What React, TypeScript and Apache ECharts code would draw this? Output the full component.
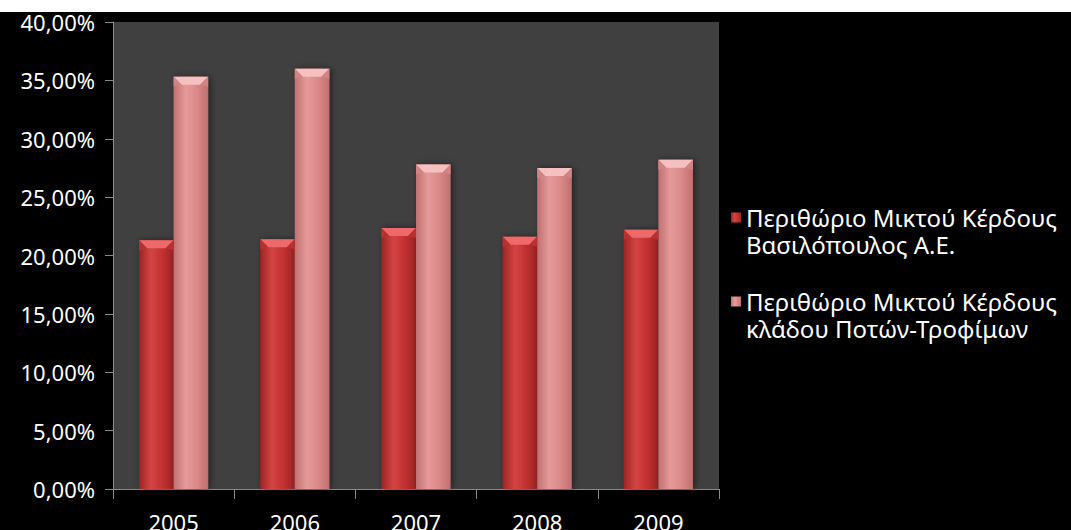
import React, { useEffect, useRef } from "react";
import * as echarts from "echarts";

const years = ["2005", "2006", "2007", "2008", "2009"];
const companyMargin = [21.3, 21.4, 22.35, 21.6, 22.2];
const sectorMargin = [35.3, 36.0, 27.8, 27.5, 28.2];
const seriesNames = [
  "Περιθώριο Μικτού Κέρδους\nΒασιλόπουλος Α.Ε.",
  "Περιθώριο Μικτού Κέρδους\nκλάδου Ποτών-Τροφίμων",
];

const FONT = "'Noto Sans', 'DejaVu Sans', sans-serif";
const CAT_GAP = 0.43;

const hGrad = (edge: string, mid: string, light: string) =>
  new echarts.graphic.LinearGradient(0, 0, 1, 0, [
    { offset: 0, color: edge },
    { offset: 0.35, color: light },
    { offset: 0.65, color: mid },
    { offset: 1, color: edge },
  ]);

const bevel = (side: number, topColor: string, sideColor: string) => (params: any, api: any) => {
  const idx = api.value(0);
  const val = api.value(1);
  const top = api.coord([idx, val]);
  const band = api.size([1, 0])[0];
  const w = (band * (1 - CAT_GAP)) / 2;
  const x0 = side === 0 ? top[0] - w : top[0];
  const x1 = x0 + w;
  const y = top[1];
  const b = 8;
  return {
    type: "group",
    children: [
      {
        type: "polygon",
        shape: { points: [[x0, y], [x1, y], [x1 - b, y + b], [x0 + b, y + b]] },
        style: { fill: topColor },
      },
      {
        type: "polygon",
        shape: { points: [[x0, y], [x0 + b, y + b], [x0, y + b + 2]] },
        style: { fill: sideColor },
      },
      {
        type: "polygon",
        shape: { points: [[x1, y], [x1 - b, y + b], [x1, y + b + 2]] },
        style: { fill: sideColor },
      },
    ],
  };
};

export default function App() {
  const ref = useRef<HTMLDivElement>(null);
  useEffect(() => {
    document.body.style.margin = "0";
    const chart = echarts.init(ref.current!, undefined, { renderer: "svg" });
    chart.setOption({
      animation: false,
      backgroundColor: "#000000",
      graphic: [
        {
          type: "rect",
          left: 0,
          top: 0,
          z: -10,
          shape: { width: 1071, height: 12 },
          style: { fill: "#ffffff" },
        },
      ],
      grid: {
        left: 113,
        right: 352,
        top: 22,
        bottom: 41,
        containLabel: false,
        outerBoundsMode: "none",
        show: true,
        backgroundColor: "#404040",
        borderWidth: 0,
      },
      legend: {
        orient: "vertical",
        left: 726,
        top: 172,
        itemWidth: 10,
        itemHeight: 10,
        itemGap: 3,
        icon: "rect",
        data: seriesNames,
        formatter: (name: string) => "\n" + name,
        textStyle: {
          color: "#ffffff",
          fontSize: 24,
          fontFamily: FONT,
          lineHeight: 27,
        },
      },
      xAxis: {
        type: "category",
        data: years,
        axisLine: { lineStyle: { color: "#8a8a8a", width: 1 } },
        axisTick: { show: true, length: 10, lineStyle: { color: "#8a8a8a" } },
        axisLabel: { color: "#ffffff", fontSize: 22, fontFamily: FONT, margin: 22 },
      },
      yAxis: {
        type: "value",
        min: 0,
        max: 40,
        interval: 5,
        splitLine: { show: false },
        axisLine: { show: true, lineStyle: { color: "#8a8a8a", width: 1 } },
        axisTick: { show: true, length: 8, lineStyle: { color: "#8a8a8a" } },
        axisLabel: {
          color: "#ffffff",
          fontSize: 22,
          fontFamily: FONT,
          margin: 18,
          formatter: (v: number) => v.toFixed(2).replace(".", ",") + "%",
        },
      },
      series: [
        {
          name: seriesNames[0],
          type: "bar",
          data: companyMargin,
          barGap: "0%",
          barCategoryGap: "43%",
          itemStyle: {
            color: hGrad("#9e2424", "#c43232", "#d44444"),
            shadowColor: "rgba(0,0,0,0.5)",
            shadowBlur: 6,
            shadowOffsetX: 2,
          },
        },
        {
          name: seriesNames[1],
          type: "bar",
          data: sectorMargin,
          barGap: "0%",
          barCategoryGap: "43%",
          itemStyle: {
            color: hGrad("#c07070", "#dc8a8a", "#e69a9a"),
            shadowColor: "rgba(0,0,0,0.5)",
            shadowBlur: 6,
            shadowOffsetX: 2,
          },
        },
        {
          type: "custom",
          name: "bevel0",
          data: companyMargin.map((v, i) => [i, v]),
          renderItem: bevel(0, "#ee6a6a", "#b83030"),
          z: 5,
          silent: true,
        },
        {
          type: "custom",
          name: "bevel1",
          data: sectorMargin.map((v, i) => [i, v]),
          renderItem: bevel(1, "#f6c0c0", "#d08484"),
          z: 5,
          silent: true,
        },
      ],
    });
    return () => chart.dispose();
  }, []);
  return <div ref={ref} style={{ width: 1071, height: 530 }} />;
}
